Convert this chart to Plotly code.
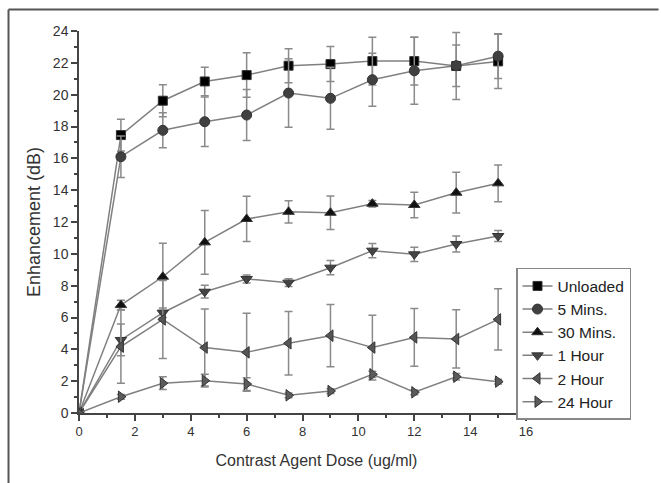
import plotly.graph_objects as go

dose = [0, 1.5, 3, 4.5, 6, 7.5, 9, 10.5, 12, 13.5, 15]

unloaded = [0, 17.46, 19.62, 20.83, 21.23, 21.82, 21.92, 22.11, 22.11, 21.80, 22.09]
unloaded_err = [0, 1.0, 1.0, 0.9, 1.4, 1.07, 1.1, 1.5, 1.5, 2.1, 1.7]

mins5 = [0, 16.10, 17.76, 18.30, 18.72, 20.10, 19.77, 20.94, 21.50, 21.82, 22.42]
mins5_err = [0, 1.3, 1.1, 1.55, 1.6, 2.15, 1.95, 1.66, 2.1, 1.3, 1.4]

mins30 = [0, 6.78, 8.56, 10.72, 12.19, 12.64, 12.58, 13.15, 13.07, 13.84, 14.43]
mins30_err = [0, 0.3, 2.1, 2.0, 1.42, 0.7, 1.05, 0.2, 0.8, 1.28, 1.15]

hour1 = [0, 4.59, 6.30, 7.62, 8.42, 8.19, 9.13, 10.20, 9.97, 10.62, 11.12]
hour1_err = [0, 1.0, 0.3, 0.4, 0.25, 0.25, 0.45, 0.45, 0.45, 0.5, 0.35]

hour2 = [0, 4.17, 5.88, 4.11, 3.81, 4.38, 4.86, 4.11, 4.75, 4.65, 5.88]
hour2_err = [0, 2.3, 2.45, 2.42, 2.45, 2.0, 1.95, 2.03, 1.82, 1.83, 1.92]

hour24 = [0, 1.02, 1.87, 2.03, 1.82, 1.11, 1.38, 2.43, 1.30, 2.28, 1.97]
hour24_err = [0, 0.15, 0.4, 0.4, 0.4, 0.15, 0.15, 0.2, 0.15, 0.2, 0.15]

names = ["Unloaded", "5 Mins.", "30 Mins.", "1 Hour", "2 Hour", "24 Hour"]
series = [unloaded, mins5, mins30, hour1, hour2, hour24]
errors = [unloaded_err, mins5_err, mins30_err, hour1_err, hour2_err, hour24_err]
symbols = ["square", "circle", "triangle-up", "triangle-down", "triangle-left", "triangle-right"]
colors = ["#000000", "#404040", "#111111", "#444444", "#555555", "#5c5c5c"]
sizes = [9, 10, 10, 10, 10, 10]

FONT = "Liberation Sans, Arial, sans-serif"

fig = go.Figure()
for nm, ys, er, sym, col, sz in zip(names, series, errors, symbols, colors, sizes):
    fig.add_trace(go.Scatter(
        x=dose, y=ys, name=nm, mode="lines+markers",
        line=dict(color="#808080", width=1.5),
        marker=dict(symbol=sym, size=sz, color=col, line=dict(color="#333333", width=1)),
        error_y=dict(type="data", array=er, visible=True, color="#8a8a8a", thickness=1.5, width=4),
    ))

fig.update_layout(
    width=661, height=483,
    margin=dict(l=79, r=107, t=31, b=70),
    paper_bgcolor="white", plot_bgcolor="white",
    font=dict(family=FONT, color="#333333", size=13),
    showlegend=True,
    legend=dict(
        x=0.92, y=0.38, xanchor="left", yanchor="top",
        bgcolor="white", bordercolor="#888888", borderwidth=1.5,
        font=dict(family=FONT, size=15.5, color="#222222"),
        tracegroupgap=0, itemwidth=30,
    ),
    xaxis=dict(
        range=[0, 17], tickmode="array", tickvals=[0, 2, 4, 6, 8, 10, 12, 14, 16],
        ticks="outside", ticklen=6, tickwidth=1.5, tickcolor="#444444",
        showline=True, linecolor="#444444", linewidth=1.5, showgrid=False, zeroline=False,
        tickfont=dict(size=13),
        minor=dict(dtick=1, tick0=0, ticks="outside", ticklen=3, tickwidth=1.5, tickcolor="#444444", showgrid=False),
        title=dict(text="Contrast Agent Dose (ug/ml)", font=dict(size=16), standoff=16),
    ),
    yaxis=dict(
        range=[0, 24], tickmode="array", tickvals=list(range(0, 25, 2)),
        ticks="outside", ticklen=6, tickwidth=1.5, tickcolor="#444444",
        showline=True, linecolor="#444444", linewidth=1.5, showgrid=False, zeroline=False,
        tickfont=dict(size=14),
        minor=dict(dtick=1, tick0=0, ticks="outside", ticklen=3, tickwidth=1.5, tickcolor="#444444", showgrid=False),
        title=dict(text="Enhancement (dB)", font=dict(size=18), standoff=8),
    ),
    shapes=[
        dict(type="line", xref="paper", yref="paper", x0=-0.1484, x1=-0.1484, y0=-0.19, y1=1.0563,
             line=dict(color="#555555", width=2), layer="below"),
        dict(type="line", xref="paper", yref="paper", x0=-0.1484, x1=1.22, y0=1.0563, y1=1.0563,
             line=dict(color="#555555", width=2), layer="below"),
    ],
)

fig.write_html("out.html")
